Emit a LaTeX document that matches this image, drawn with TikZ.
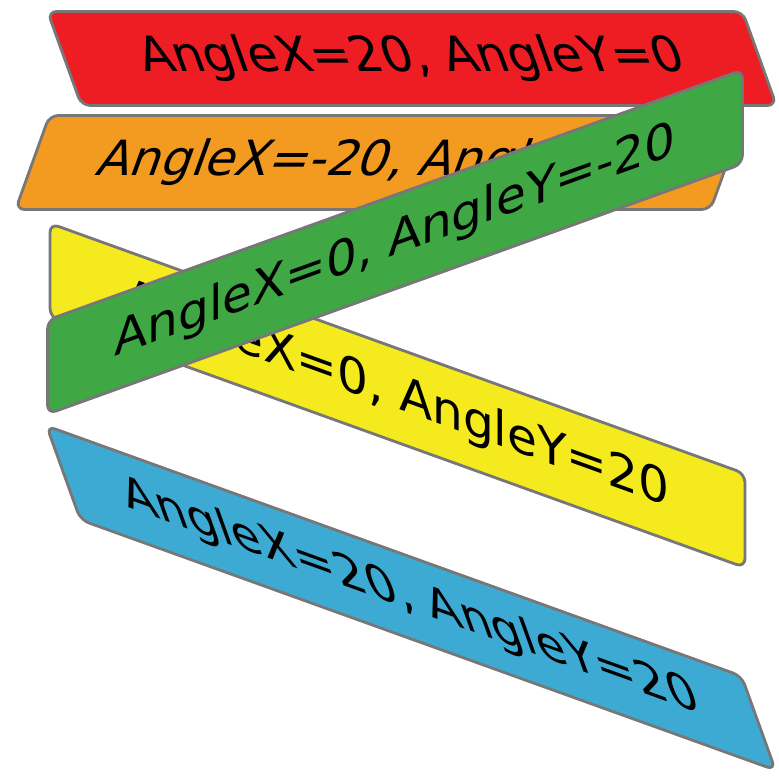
\documentclass[tikz,border=0pt]{standalone}
\usepackage{fontspec}
\setmainfont{DejaVu Sans}
\usepackage{xcolor}
\usepackage{tikz}
\definecolor{BandRed}{HTML}{EE1D23}
\definecolor{BandOrange}{HTML}{F39A21}
\definecolor{BandYellow}{HTML}{F4EA1E}
\definecolor{BandGreen}{HTML}{3FA844}
\definecolor{BandBlue}{HTML}{3DAAD4}
\definecolor{BandLine}{HTML}{777777}
\tikzset{
  band/.style={draw=BandLine,line width=.8pt,rounded corners=.09cm,
    minimum width=6.95cm,minimum height=.94cm,inner sep=0pt,
    transform shape,text=black,font=\fontsize{13.8}{16}\selectfont}
}
\begin{document}
\begin{tikzpicture}[x=1cm,y=1cm]
\path[use as bounding box] (0,0) rectangle (7.78,7.79);
\begin{scope}[cm={1,0,-0.36,1,(4.12,7.205)}]
\node[band,fill=BandRed] (red) at (0,0) {AngleX=20, AngleY=0};
\end{scope}
\begin{scope}[cm={1,0,0.36,1,(3.80,6.165)}]
\node[band,fill=BandOrange] (orange) at (0,0) {AngleX=-20, AngleY=0};
\end{scope}
\begin{scope}[cm={1,-0.36,0,1,(3.975,3.835)}]
\node[band,fill=BandYellow] (yellow) at (0,0) {AngleX=0, AngleY=20};
\end{scope}
\begin{scope}[cm={1,0.36,0,1,(3.95,5.37)}]
\node[band,fill=BandGreen] (green) at (0,0) {AngleX=0, AngleY=-20};
\end{scope}
\begin{scope}[cm={1,-0.36,-0.36,1,(4.11,1.81)}]
\node[band,fill=BandBlue] (blue) at (0,0) {AngleX=20, AngleY=20};
\end{scope}
\end{tikzpicture}
\end{document}
